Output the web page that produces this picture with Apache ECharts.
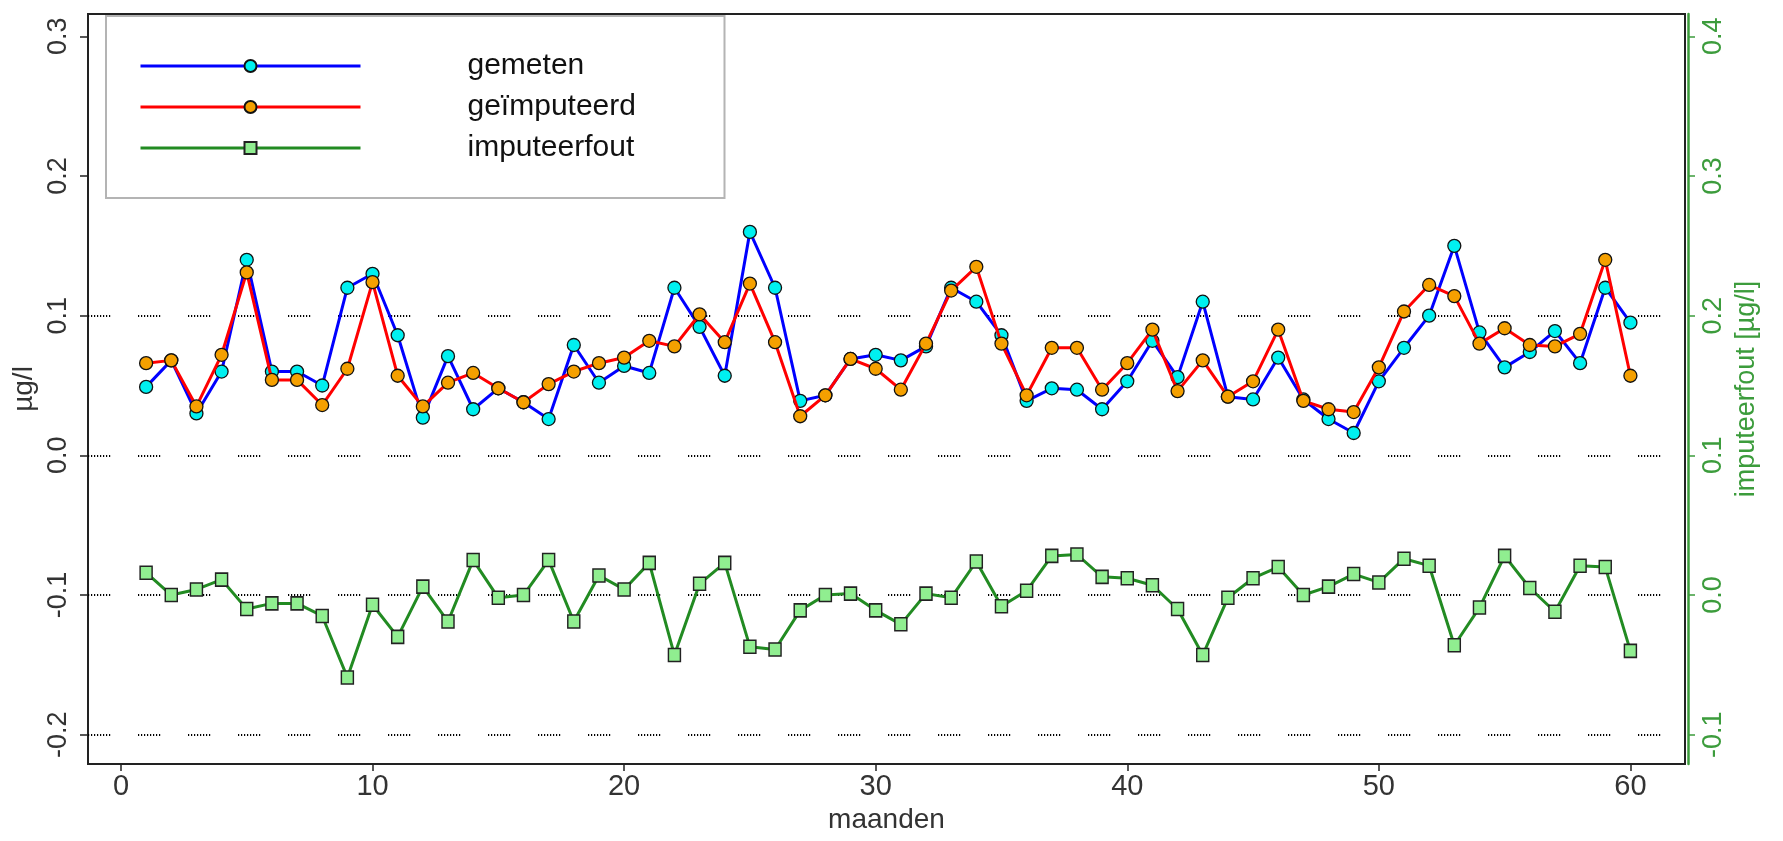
<!DOCTYPE html>
<html lang="nl">
<head>
<meta charset="UTF-8">
<title>gemeten / geïmputeerd</title>
<script src="https://cdn.jsdelivr.net/npm/echarts@6/dist/echarts.min.js"></script>
<style>
  html, body { margin: 0; padding: 0; background: #fff; }
  #chart { width: 1783px; height: 841px; }
</style>
</head>
<body>
<div id="chart"></div>
<script>
// maanden 1..60
const maanden = [1, 2, 3, 4, 5, 6, 7, 8, 9, 10, 11, 12, 13, 14, 15, 16, 17, 18, 19, 20,
  21, 22, 23, 24, 25, 26, 27, 28, 29, 30, 31, 32, 33, 34, 35, 36, 37, 38, 39, 40,
  41, 42, 43, 44, 45, 46, 47, 48, 49, 50, 51, 52, 53, 54, 55, 56, 57, 58, 59, 60]

const gemeten = [0.049, 0.068, 0.030, 0.060, 0.140, 0.060, 0.060, 0.050, 0.120, 0.130,
  0.086, 0.027, 0.071, 0.033, 0.048, 0.038, 0.026, 0.079, 0.052, 0.064,
  0.059, 0.120, 0.092, 0.057, 0.160, 0.120, 0.039, 0.043, 0.069, 0.072,
  0.068, 0.078, 0.120, 0.110, 0.086, 0.039, 0.048, 0.047, 0.033, 0.053,
  0.082, 0.056, 0.110, 0.042, 0.040, 0.070, 0.040, 0.026, 0.016, 0.053,
  0.077, 0.100, 0.150, 0.088, 0.063, 0.074, 0.089, 0.066, 0.120, 0.095]

const geimputeerd = [0.066, 0.068, 0.035, 0.072, 0.131, 0.054, 0.054, 0.036, 0.062, 0.124,
  0.057, 0.035, 0.052, 0.059, 0.048, 0.038, 0.051, 0.060, 0.066, 0.070,
  0.082, 0.078, 0.101, 0.081, 0.123, 0.081, 0.028, 0.043, 0.069, 0.062,
  0.047, 0.080, 0.118, 0.135, 0.080, 0.043, 0.077, 0.077, 0.047, 0.066,
  0.090, 0.046, 0.068, 0.042, 0.053, 0.090, 0.039, 0.033, 0.031, 0.063,
  0.103, 0.122, 0.114, 0.080, 0.091, 0.079, 0.078, 0.087, 0.140, 0.057]

// rechter as
const imputeerfout = [0.016, 0.000, 0.004, 0.011, -0.010, -0.006, -0.006, -0.015, -0.059, -0.007,
  -0.030, 0.006, -0.019, 0.025, -0.002, 0.000, 0.025, -0.019, 0.014, 0.004,
  0.023, -0.043, 0.008, 0.023, -0.037, -0.039, -0.011, 0.000, 0.001, -0.011,
  -0.021, 0.001, -0.002, 0.024, -0.008, 0.003, 0.028, 0.029, 0.013, 0.012,
  0.007, -0.010, -0.043, -0.002, 0.012, 0.020, 0.000, 0.006, 0.015, 0.009,
  0.026, 0.021, -0.036, -0.009, 0.028, 0.005, -0.012, 0.021, 0.020, -0.040]

const xTicks = [0, 10, 20, 30, 40, 50, 60]
const leftTicks = [-0.2, -0.1, 0, 0.1, 0.2, 0.3]
const rightTicks = [-0.1, 0, 0.1, 0.2, 0.3, 0.4]
const gridLevels = [-0.2, -0.1, 0, 0.1]
const legendNames = ['gemeten', 'geïmputeerd', 'imputeerfout']

const font = "'Liberation Sans', Arial, sans-serif"
const green = '#3c9c3c'
const dots = [1.2, 1.8, 1.2, 1.8, 1.2, 1.8, 1.2, 1.8, 1.2, 1.8, 1.2, 1.8, 1.2, 1.8, 1.2, 27.8]

const pairs = (ys) => maanden.map((m, i) => [m, ys[i]])

const chart = echarts.init(document.getElementById('chart'))

const option = {
  animation: false,
  backgroundColor: '#fff',
  grid: {
    left: 88, right: 98, top: 14, bottom: 77,
    show: true, borderColor: '#222', borderWidth: 2,
    outerBoundsMode: 'none'
  },
  legend: {
    orient: 'vertical',
    left: 106, top: 16,
    padding: [35, 33, 35, 33],
    itemWidth: 220, itemHeight: 15, itemGap: 11,
    backgroundColor: '#fff',
    borderColor: '#b4b4b4', borderWidth: 2,
    selectedMode: false,
    lineStyle: { width: 3 },
    textStyle: {
      fontFamily: font, fontSize: 30, color: '#111',
      padding: [0, 0, 0, 102], width: 224, lineHeight: 30
    },
    data: legendNames.map((n) => ({ name: n, lineStyle: { width: 3 } }))
  },
  xAxis: {
    type: 'value',
    min: -1.31, max: 62.17,
    name: 'maanden', nameLocation: 'middle', nameGap: 42, nameMoveOverlap: false,
    nameTextStyle: { fontFamily: font, fontSize: 28, color: '#333' },
    axisLine: { onZero: false, lineStyle: { color: '#222', width: 2 } },
    axisTick: { customValues: xTicks, length: 7, lineStyle: { color: '#222', width: 1.5 } },
    axisLabel: {
      customValues: xTicks, margin: 8,
      fontFamily: font, fontSize: 29, color: '#333'
    },
    splitLine: { show: false }
  },
  yAxis: [
    {
      type: 'value',
      min: -0.221, max: 0.316,
      name: 'µg/l', nameLocation: 'middle', nameGap: 50, nameMoveOverlap: false,
      nameTextStyle: { fontFamily: font, fontSize: 28, color: '#333' },
      axisLine: { show: true, onZero: false, lineStyle: { color: '#222', width: 2 } },
      axisTick: { customValues: leftTicks, length: 8, lineStyle: { color: '#222', width: 1.5 } },
      axisLabel: {
        customValues: leftTicks, rotate: 90, margin: 16,
        fontFamily: font, fontSize: 27, color: '#333',
        formatter: (v) => v.toFixed(1)
      },
      splitLine: { show: false }
    },
    {
      type: 'value',
      position: 'right', offset: 3,
      min: -0.121, max: 0.416,
      name: 'imputeerfout [µg/l]', nameLocation: 'middle', nameGap: 45, nameMoveOverlap: false,
      nameTextStyle: { fontFamily: font, fontSize: 27, color: green },
      axisLine: { show: true, onZero: false, lineStyle: { color: green, width: 2.5 } },
      axisTick: { customValues: rightTicks, length: 7, lineStyle: { color: green, width: 1.5 } },
      axisLabel: {
        customValues: rightTicks, rotate: 90, margin: 12,
        fontFamily: font, fontSize: 27, color: green,
        formatter: (v) => v.toFixed(1)
      },
      splitLine: { show: false }
    }
  ],
  series: [
    {
      name: 'gemeten',
      type: 'line',
      data: pairs(gemeten),
      symbol: 'circle', symbolSize: 13,
      lineStyle: { color: '#0000ff', width: 3 },
      itemStyle: { color: '#00f0f0', borderColor: '#111', borderWidth: 1.3 },
      markLine: {
        silent: true,
        symbol: 'none',
        label: { show: false },
        lineStyle: { color: '#000', width: 2, type: dots, opacity: 1 },
        data: gridLevels.map((v) => ({ yAxis: v })),
        z: 1
      },
      z: 3
    },
    {
      name: 'geïmputeerd',
      type: 'line',
      data: pairs(geimputeerd),
      symbol: 'circle', symbolSize: 13,
      lineStyle: { color: '#ff0000', width: 3 },
      itemStyle: { color: '#f5a000', borderColor: '#111', borderWidth: 1.3 },
      z: 4
    },
    {
      name: 'imputeerfout',
      type: 'line',
      yAxisIndex: 1,
      data: pairs(imputeerfout),
      symbol: 'rect', symbolSize: [12, 13],
      lineStyle: { color: '#228b22', width: 3 },
      itemStyle: { color: '#90ee90', borderColor: '#222', borderWidth: 1.5 },
      z: 4
    }
  ]
}

chart.setOption(option)
</script>
</body>
</html>
